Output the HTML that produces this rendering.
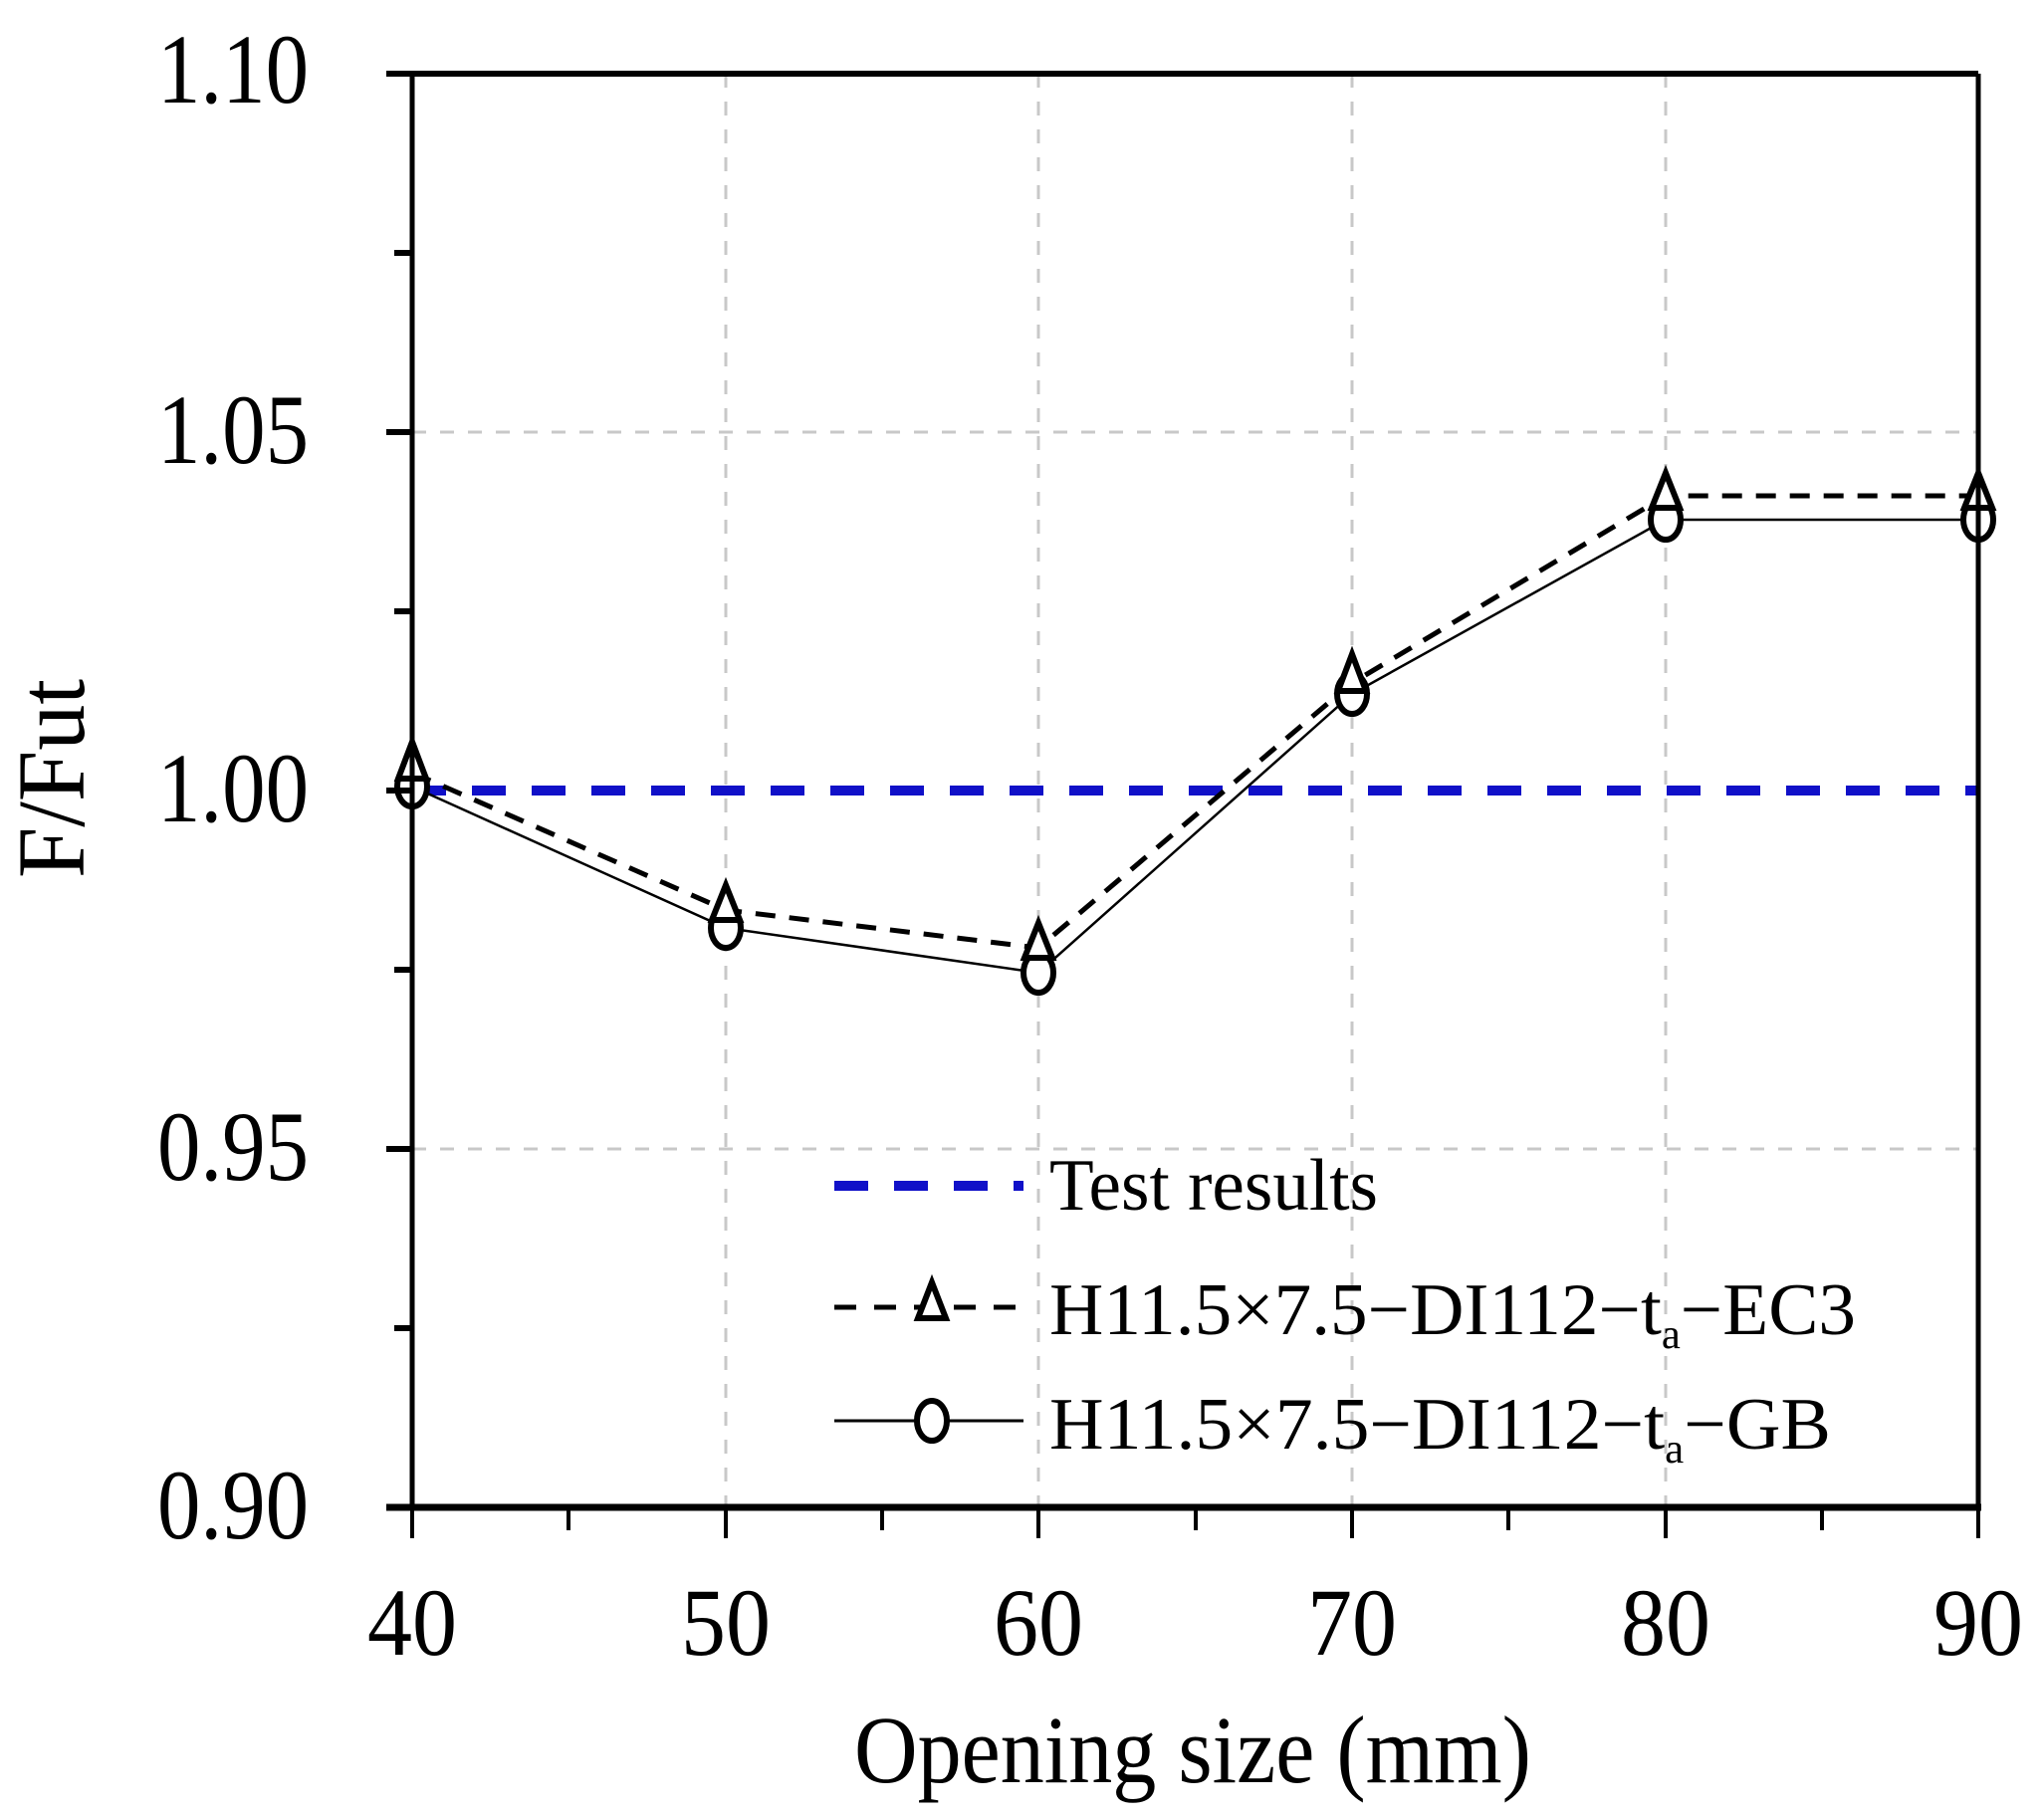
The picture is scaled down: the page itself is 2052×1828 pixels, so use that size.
<!DOCTYPE html>
<html><head><meta charset="utf-8"><style>
html,body{margin:0;padding:0;background:#fff;}
svg{display:block;}
text{font-family:"Liberation Serif",serif;fill:#000;}
</style></head><body>
<svg width="2052" height="1828" viewBox="0 0 2052 1828" xmlns="http://www.w3.org/2000/svg">
<g stroke="#c8c8c8" stroke-width="3" stroke-dasharray="14,14">
<line x1="414" y1="434" x2="1987" y2="434"/>
<line x1="414" y1="1154" x2="1987" y2="1154"/>
<line x1="729" y1="74" x2="729" y2="1514"/>
<line x1="1043" y1="74" x2="1043" y2="1514"/>
<line x1="1358" y1="74" x2="1358" y2="1514"/>
<line x1="1673" y1="74" x2="1673" y2="1514"/>
</g>
<line x1="414" y1="794" x2="1987" y2="794" stroke="#1010c8" stroke-width="10" stroke-dasharray="34,26"/>
<polyline fill="none" stroke="#000" stroke-width="5" stroke-dasharray="20,14" points="414,776 729,914 1043,952 1358,686 1673,498 1987,498"/>
<polyline fill="none" stroke="#000" stroke-width="2.5" points="414,790 729,932 1043,977 1358,697 1673,522 1987,522"/>
<g fill="#fff" stroke="#000" stroke-width="6">
<ellipse cx="414" cy="790" rx="15" ry="20"/>
<ellipse cx="729" cy="932" rx="15" ry="20"/>
<ellipse cx="1043" cy="977" rx="15" ry="20"/>
<ellipse cx="1358" cy="697" rx="15" ry="20"/>
<ellipse cx="1673" cy="522" rx="15" ry="20"/>
<ellipse cx="1987" cy="522" rx="15" ry="20"/>
</g>
<g fill="#fff" stroke="#000" stroke-width="6">
<polygon points="414,745 400,782 428,782"/>
<polygon points="729,889 715,924 743,924"/>
<polygon points="1043,927 1029,962 1057,962"/>
<polygon points="1358,657 1344,694 1372,694"/>
<polygon points="1673,475 1659,510 1687,510"/>
<polygon points="1987,475 1973,510 2001,510"/>
</g>
<g stroke="#000" fill="none">
<line x1="388" y1="74" x2="1987" y2="74" stroke-width="6"/>
<line x1="414" y1="74" x2="414" y2="1514" stroke-width="5"/>
<line x1="1987" y1="74" x2="1987" y2="1514" stroke-width="5"/>
<line x1="388" y1="1514" x2="1990" y2="1514" stroke-width="7"/>
</g>
<g stroke="#000" stroke-width="6">
<line x1="388" y1="434" x2="414" y2="434"/>
<line x1="388" y1="794" x2="414" y2="794"/>
<line x1="388" y1="1154" x2="414" y2="1154"/>
<line x1="396" y1="254" x2="414" y2="254"/>
<line x1="396" y1="614" x2="414" y2="614"/>
<line x1="396" y1="974" x2="414" y2="974"/>
<line x1="396" y1="1334" x2="414" y2="1334"/>
</g>
<g stroke="#000" stroke-width="4">
<line x1="414" y1="1514" x2="414" y2="1545"/>
<line x1="729" y1="1514" x2="729" y2="1545"/>
<line x1="1043" y1="1514" x2="1043" y2="1545"/>
<line x1="1358" y1="1514" x2="1358" y2="1545"/>
<line x1="1673" y1="1514" x2="1673" y2="1545"/>
<line x1="1987" y1="1514" x2="1987" y2="1545"/>
<line x1="571" y1="1514" x2="571" y2="1537"/>
<line x1="886" y1="1514" x2="886" y2="1537"/>
<line x1="1201" y1="1514" x2="1201" y2="1537"/>
<line x1="1515" y1="1514" x2="1515" y2="1537"/>
<line x1="1830" y1="1514" x2="1830" y2="1537"/>
</g>
<g font-size="100" text-anchor="end">
<text x="310" y="103" textLength="152" lengthAdjust="spacingAndGlyphs">1.10</text>
<text x="310" y="465" textLength="152" lengthAdjust="spacingAndGlyphs">1.05</text>
<text x="310" y="825" textLength="152" lengthAdjust="spacingAndGlyphs">1.00</text>
<text x="310" y="1185" textLength="152" lengthAdjust="spacingAndGlyphs">0.95</text>
<text x="310" y="1545" textLength="152" lengthAdjust="spacingAndGlyphs">0.90</text>
</g>
<g font-size="96" text-anchor="middle">
<text x="414" y="1662" textLength="90" lengthAdjust="spacingAndGlyphs">40</text>
<text x="729" y="1662" textLength="90" lengthAdjust="spacingAndGlyphs">50</text>
<text x="1043" y="1662" textLength="90" lengthAdjust="spacingAndGlyphs">60</text>
<text x="1358" y="1662" textLength="90" lengthAdjust="spacingAndGlyphs">70</text>
<text x="1673" y="1662" textLength="90" lengthAdjust="spacingAndGlyphs">80</text>
<text x="1987" y="1662" textLength="90" lengthAdjust="spacingAndGlyphs">90</text>
</g>
<text x="1198" y="1790" font-size="96" text-anchor="middle" textLength="680" lengthAdjust="spacingAndGlyphs">Opening size (mm)</text>
<text transform="translate(84,782) rotate(-90)" font-size="96" text-anchor="middle" textLength="200" lengthAdjust="spacingAndGlyphs">F/Fut</text>
<line x1="838" y1="1191" x2="1028" y2="1191" stroke="#1010c8" stroke-width="10" stroke-dasharray="34,26"/>
<text x="1054" y="1215" font-size="74" textLength="330" lengthAdjust="spacingAndGlyphs">Test results</text>
<line x1="838" y1="1313" x2="1028" y2="1313" stroke="#000" stroke-width="5" stroke-dasharray="22,18"/>
<polygon points="936,1288 922,1324 950,1324" fill="#fff" stroke="#000" stroke-width="6"/>
<text x="1054" y="1340" font-size="74" textLength="810" lengthAdjust="spacingAndGlyphs">H11.5×7.5−DI112−t<tspan font-size="42" dy="14">a</tspan><tspan dy="-14">−EC3</tspan></text>
<line x1="838" y1="1427" x2="1028" y2="1427" stroke="#000" stroke-width="3"/>
<ellipse cx="936" cy="1427" rx="15" ry="20" fill="#fff" stroke="#000" stroke-width="6"/>
<text x="1054" y="1455" font-size="74" textLength="785" lengthAdjust="spacingAndGlyphs">H11.5×7.5−DI112−t<tspan font-size="42" dy="14">a</tspan><tspan dy="-14">−GB</tspan></text>
</svg>
</body></html>
